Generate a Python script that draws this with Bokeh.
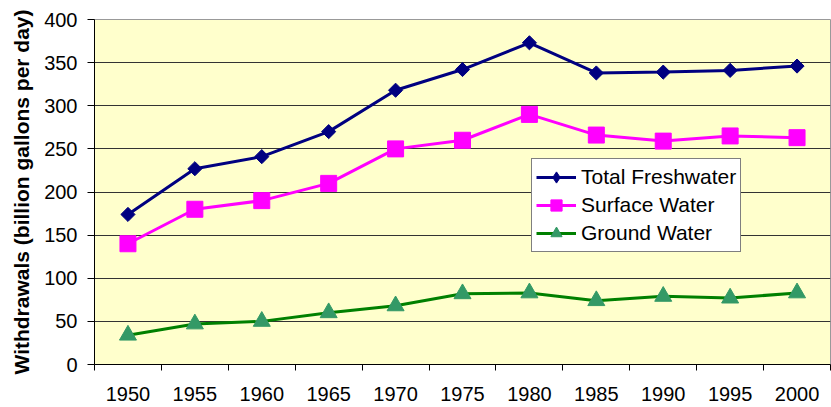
from bokeh.plotting import figure
from bokeh.models import FixedTicker, Range1d, Legend, LegendItem, ColumnDataSource
from bokeh.embed import file_html
from bokeh.resources import INLINE
import math

years = [1950, 1955, 1960, 1965, 1970, 1975, 1980, 1985, 1990, 1995, 2000]
total = [174, 227, 241, 270, 318, 342, 373, 338, 339, 341, 346]
surface = [140, 180, 190, 210, 250, 260, 290, 266, 259, 265, 263]
ground = [34, 47, 50, 60, 68, 82, 83, 74, 79, 77, 83]
y_ticks = [0, 50, 100, 150, 200, 250, 300, 350, 400]

src = ColumnDataSource(dict(x=years, total=total, surface=surface, ground=ground))

p = figure(width=831, height=407, output_backend="svg", toolbar_location=None,
           x_range=Range1d(years[0] - 2.5, years[-1] + 2.5), y_range=Range1d(0, 400),
           min_border_left=94, min_border_top=19, min_border_bottom=43, min_border_right=1)
p.background_fill_color = "#FFFFCC"
p.border_fill_color = "white"
p.outline_line_color = "#999999"

font = "Liberation Sans"
p.xaxis.ticker = FixedTicker(ticks=years, minor_ticks=[y - 2.5 for y in years] + [years[-1] + 2.5])
p.xaxis.major_tick_out = 0
p.xaxis.major_tick_in = 0
p.xaxis.minor_tick_out = 6
p.xaxis.minor_tick_in = 0
p.xaxis.minor_tick_line_color = "black"
p.xaxis.axis_line_color = "black"
p.xaxis.major_label_standoff = 16
p.yaxis.ticker = FixedTicker(ticks=y_ticks)
p.yaxis.major_tick_out = 7
p.yaxis.major_tick_in = 0
p.yaxis.minor_tick_line_color = None
p.yaxis.axis_line_color = "black"
p.yaxis.major_label_standoff = 10
for ax in (p.xaxis, p.yaxis):
    ax.major_label_text_font = font
    ax.major_label_text_font_size = "20px"
    ax.major_label_text_color = "black"
p.yaxis.axis_label = "Withdrawals (billion gallons per day)"
p.yaxis.axis_label_text_font = font
p.yaxis.axis_label_text_font_size = "21px"
p.yaxis.axis_label_text_font_style = "bold"
p.yaxis.axis_label_text_color = "black"
p.yaxis.axis_label_standoff = 8

p.xgrid.grid_line_color = None
p.ygrid.grid_line_color = "#333333"
p.ygrid.grid_line_width = 1

l1 = p.line("x", "total", source=src, line_color="#000080", line_width=3)
# diamond glyph (used for the legend, since legend glyphs ignore marker angle);
# it lies fully inside the rotated square drawn over it
m1 = p.scatter("x", "total", source=src, marker="diamond", size=10,
               fill_color="#000080", line_color="#000080")
p.scatter("x", "total", source=src, marker="square", angle=math.pi / 4, size=10,
          fill_color="#000080", line_color="#000080")
l2 = p.line("x", "surface", source=src, line_color="#FF00FF", line_width=3)
m2 = p.scatter("x", "surface", source=src, marker="square", size=16,
               fill_color="#FF00FF", line_color="#FF00FF")
l3 = p.line("x", "ground", source=src, line_color="#008000", line_width=3)
m3 = p.scatter("x", "ground", source=src, marker="triangle", size=17,
               fill_color="#339966", line_color="#339966")

legend = Legend(items=[LegendItem(label="Total Freshwater", renderers=[l1, m1]),
                       LegendItem(label="Surface Water", renderers=[l2, m2]),
                       LegendItem(label="Ground Water", renderers=[l3, m3])],
                location=(437, 112))
legend.background_fill_color = "white"
legend.background_fill_alpha = 1
legend.border_line_color = "black"
legend.border_line_width = 1
legend.label_text_font = font
legend.label_text_font_size = "21px"
legend.label_text_color = "black"
legend.glyph_width = 40
legend.glyph_height = 28
legend.label_height = 28
legend.label_standoff = 5
legend.spacing = 0
legend.padding = 4
legend.margin = 0
p.add_layout(legend, "center")

open("out.html", "w").write(file_html(p, INLINE))
